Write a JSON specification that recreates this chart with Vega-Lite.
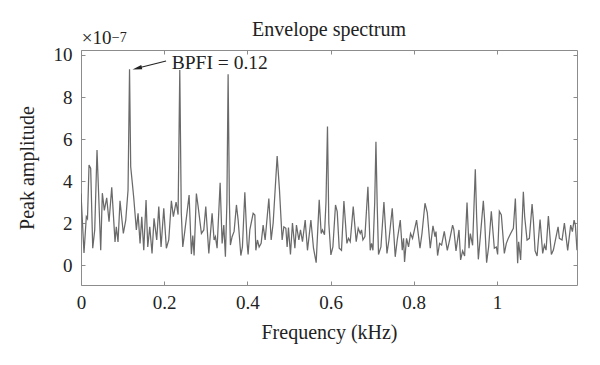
{
  "$schema": "https://vega.github.io/schema/vega-lite/v6.json",
  "width": 496,
  "height": 235,
  "autosize": "none",
  "padding": {"left": 81, "top": 50, "right": 23, "bottom": 80},
  "background": "white",
  "config": {
    "view": {"stroke": "#8c8c8c", "strokeWidth": 1},
    "axis": {"domain": false, "grid": false, "tickColor": "#8c8c8c", "tickSize": -4, "tickWidth": 1, "labelFont": "Liberation Serif", "labelFontSize": 19, "labelColor": "#222222", "titleFont": "Liberation Serif", "titleFontSize": 20, "titleFontWeight": "normal", "titleColor": "#222222"}
  },
  "datasets": {
    "spec": [
      {"f":0,"a":3.4},{"f":0.0072,"a":0.57},{"f":0.0128,"a":2.3},{"f":0.0156,"a":2.2},{"f":0.0193,"a":4.76},{"f":0.0233,"a":4.6},{"f":0.0282,"a":0.8},{"f":0.033,"a":1.67},{"f":0.0385,"a":5.48},{"f":0.0474,"a":0.7},{"f":0.0513,"a":3.42},{"f":0.0561,"a":2.6},{"f":0.0618,"a":3.2},{"f":0.0674,"a":2.06},{"f":0.0739,"a":3.7},{"f":0.0818,"a":1.1},{"f":0.0849,"a":1.82},{"f":0.089,"a":1.1},{"f":0.0938,"a":3.06},{"f":0.1018,"a":1.5},{"f":0.1076,"a":2.14},{"f":0.1131,"a":3.57},{"f":0.1167,"a":9.32},{"f":0.1195,"a":4.68},{"f":0.1234,"a":3.9},{"f":0.1268,"a":3.2},{"f":0.1331,"a":1.67},{"f":0.1372,"a":2.46},{"f":0.142,"a":1.03},{"f":0.1461,"a":2.3},{"f":0.1509,"a":0.7},{"f":0.1564,"a":3.1},{"f":0.1605,"a":0.86},{"f":0.1653,"a":1.82},{"f":0.1708,"a":0.55},{"f":0.1756,"a":2.22},{"f":0.1821,"a":1.19},{"f":0.187,"a":2.78},{"f":0.1925,"a":0.86},{"f":0.199,"a":2.7},{"f":0.2052,"a":0.8},{"f":0.211,"a":1.2},{"f":0.2173,"a":3.06},{"f":0.2221,"a":2.3},{"f":0.2286,"a":3.0},{"f":0.2334,"a":2.4},{"f":0.2375,"a":9.29},{"f":0.2411,"a":2.5},{"f":0.2447,"a":0.86},{"f":0.2495,"a":1.6},{"f":0.2599,"a":3.33},{"f":0.2654,"a":0.52},{"f":0.2688,"a":1.4},{"f":0.2719,"a":0.45},{"f":0.2774,"a":3.4},{"f":0.2815,"a":2.8},{"f":0.2895,"a":1.5},{"f":0.2952,"a":1.67},{"f":0.3,"a":2.78},{"f":0.3073,"a":0.55},{"f":0.3152,"a":2.46},{"f":0.32,"a":1.19},{"f":0.3232,"a":1.35},{"f":0.3272,"a":0.8},{"f":0.3345,"a":3.92},{"f":0.3393,"a":1.03},{"f":0.3433,"a":1.9},{"f":0.3472,"a":0.39},{"f":0.3508,"a":3.0},{"f":0.3537,"a":9.08},{"f":0.3568,"a":3.0},{"f":0.3592,"a":0.95},{"f":0.3633,"a":1.35},{"f":0.3681,"a":1.6},{"f":0.3737,"a":2.86},{"f":0.3778,"a":2.14},{"f":0.3843,"a":0.45},{"f":0.3881,"a":0.86},{"f":0.3939,"a":3.46},{"f":0.3994,"a":1.03},{"f":0.4018,"a":0.5},{"f":0.4059,"a":1.67},{"f":0.4139,"a":2.46},{"f":0.418,"a":2.38},{"f":0.4204,"a":0.7},{"f":0.4242,"a":1.19},{"f":0.4283,"a":0.86},{"f":0.4331,"a":1.03},{"f":0.4379,"a":1.9},{"f":0.4427,"a":1.19},{"f":0.4516,"a":3.17},{"f":0.4572,"a":1.19},{"f":0.462,"a":2.0},{"f":0.4716,"a":5.19},{"f":0.4771,"a":3.6},{"f":0.4836,"a":1.19},{"f":0.4877,"a":1.82},{"f":0.4925,"a":1.75},{"f":0.4956,"a":0.86},{"f":0.4988,"a":1.78},{"f":0.5036,"a":0.5},{"f":0.5084,"a":2.0},{"f":0.5142,"a":0.8},{"f":0.518,"a":1.9},{"f":0.5238,"a":1.19},{"f":0.5277,"a":1.67},{"f":0.5325,"a":1.11},{"f":0.539,"a":2.14},{"f":0.5445,"a":0.7},{"f":0.5527,"a":2.14},{"f":0.559,"a":0.8},{"f":0.5654,"a":0.11},{"f":0.5727,"a":3.1},{"f":0.5775,"a":1.5},{"f":0.5806,"a":1.67},{"f":0.5854,"a":1.44},{"f":0.589,"a":3.0},{"f":0.5926,"a":6.59},{"f":0.5958,"a":2.0},{"f":0.6008,"a":0.48},{"f":0.6056,"a":0.86},{"f":0.6119,"a":2.86},{"f":0.616,"a":2.54},{"f":0.6208,"a":0.8},{"f":0.6263,"a":0.7},{"f":0.6321,"a":3.05},{"f":0.6393,"a":1.03},{"f":0.6432,"a":1.27},{"f":0.6473,"a":1.11},{"f":0.6545,"a":2.78},{"f":0.6617,"a":1.11},{"f":0.6665,"a":1.75},{"f":0.6713,"a":1.5},{"f":0.6745,"a":1.67},{"f":0.6778,"a":1.19},{"f":0.6826,"a":1.35},{"f":0.6898,"a":3.73},{"f":0.6954,"a":0.7},{"f":0.6985,"a":1.03},{"f":0.7019,"a":0.7},{"f":0.7062,"a":3.0},{"f":0.7091,"a":5.87},{"f":0.7122,"a":2.8},{"f":0.7153,"a":0.5},{"f":0.7211,"a":0.86},{"f":0.7283,"a":3.0},{"f":0.7356,"a":0.55},{"f":0.7404,"a":1.19},{"f":0.7483,"a":2.7},{"f":0.7555,"a":0.39},{"f":0.7603,"a":1.19},{"f":0.7676,"a":2.14},{"f":0.7724,"a":0.7},{"f":0.7755,"a":1.27},{"f":0.7779,"a":0.15},{"f":0.7827,"a":1.27},{"f":0.7875,"a":0.86},{"f":0.7923,"a":1.5},{"f":0.7971,"a":1.27},{"f":0.8068,"a":2.14},{"f":0.815,"a":0.8},{"f":0.8198,"a":1.5},{"f":0.827,"a":2.94},{"f":0.8325,"a":2.5},{"f":0.8397,"a":0.8},{"f":0.8462,"a":1.86},{"f":0.8511,"a":1.35},{"f":0.8535,"a":1.59},{"f":0.8573,"a":0.45},{"f":0.8621,"a":1.03},{"f":0.867,"a":0.95},{"f":0.8734,"a":1.6},{"f":0.8807,"a":0.7},{"f":0.8862,"a":1.19},{"f":0.8934,"a":1.9},{"f":0.8963,"a":1.7},{"f":0.9016,"a":0.67},{"f":0.9088,"a":1.67},{"f":0.9127,"a":0.24},{"f":0.9175,"a":0.67},{"f":0.9223,"a":0.43},{"f":0.9281,"a":2.97},{"f":0.9329,"a":0.8},{"f":0.936,"a":1.5},{"f":0.9415,"a":0.94},{"f":0.948,"a":4.56},{"f":0.9512,"a":2.3},{"f":0.9553,"a":0.27},{"f":0.9601,"a":1.35},{"f":0.9673,"a":3.06},{"f":0.9704,"a":2.14},{"f":0.9752,"a":0.11},{"f":0.98,"a":0.86},{"f":0.9865,"a":2.56},{"f":0.9937,"a":0.8},{"f":0.9985,"a":0.86},{"f":1.0017,"a":0.5},{"f":1.0058,"a":2.56},{"f":1.0106,"a":2.38},{"f":1.0178,"a":0.55},{"f":1.0226,"a":1.03},{"f":1.0274,"a":1.27},{"f":1.033,"a":1.5},{"f":1.0395,"a":1.75},{"f":1.0443,"a":3.17},{"f":1.0498,"a":0.08},{"f":1.0522,"a":1.11},{"f":1.057,"a":0.24},{"f":1.0635,"a":3.49},{"f":1.0667,"a":2.3},{"f":1.0724,"a":1.19},{"f":1.078,"a":1.27},{"f":1.0845,"a":2.9},{"f":1.0876,"a":2.14},{"f":1.0917,"a":0.67},{"f":1.0965,"a":0.43},{"f":1.1037,"a":2.17},{"f":1.11,"a":0.55},{"f":1.1141,"a":0.95},{"f":1.1181,"a":0.71},{"f":1.1237,"a":2.33},{"f":1.1309,"a":0.5},{"f":1.1357,"a":0.71},{"f":1.147,"a":1.82},{"f":1.1501,"a":1.27},{"f":1.1566,"a":1.19},{"f":1.1622,"a":2.0},{"f":1.1701,"a":0.7},{"f":1.1773,"a":1.9},{"f":1.1814,"a":1.59},{"f":1.1855,"a":2.14},{"f":1.1886,"a":1.9},{"f":1.1925,"a":0.7}
    ],
    "arrow": [{"x1": 0.2045, "y1": 9.71, "x2": 0.135, "y2": 9.37}],
    "head": [{"x": 0.135, "y": 9.37}],
    "title": [{"x": 0.5963, "y": 10.905, "text": "Envelope spectrum"}],
    "bpfi": [{"x": 0.2182, "y": 9.32, "text": "BPFI = 0.12"}],
    "mult": [{"x": 0.0017, "y": 10.52, "text": "×10"}],
    "expo": [{"x": 0.0739, "y": 10.63, "text": "−7"}]
  },
  "resolve": {"axis": {"x": "independent", "y": "independent"}},
  "layer": [
    {
      "data": {"name": "spec"},
      "mark": {"type": "line", "color": "#6a6a6a", "strokeWidth": 1.25, "clip": true},
      "encoding": {
        "x": {"field": "f", "type": "quantitative", "scale": {"domain": [0, 1.1925], "nice": false, "zero": false},
              "axis": {"orient": "bottom", "values": [0, 0.2, 0.4, 0.6, 0.8, 1], "format": "~g", "labelFlush": false, "labelPadding": 12, "title": "Frequency (kHz)", "titleY": 53, "titleBaseline": "alphabetic"}},
        "y": {"field": "a", "type": "quantitative", "scale": {"domain": [-0.952, 10.238], "nice": false, "zero": false},
              "axis": {"orient": "left", "values": [0, 2, 4, 6, 8, 10], "format": "d", "labelPadding": 13, "title": "Peak amplitude", "titleX": -48, "titleY": 117.5, "titleAngle": -90, "titleAlign": "center", "titleBaseline": "alphabetic"}}
      }
    },
    {
      "data": {"name": "arrow"},
      "mark": {"type": "rule", "color": "#222222", "strokeWidth": 1.1},
      "encoding": {
        "x": {"field": "x1", "type": "quantitative", "axis": {"orient": "top", "values": [0, 0.2, 0.4, 0.6, 0.8, 1], "labels": false, "title": null}},
        "y": {"field": "y1", "type": "quantitative", "axis": {"orient": "right", "values": [0, 2, 4, 6, 8, 10], "labels": false, "title": null}},
        "x2": {"field": "x2"},
        "y2": {"field": "y2"}
      }
    },
    {
      "data": {"name": "head"},
      "mark": {"type": "point", "shape": "M0,-1L0.45,1L-0.45,1Z", "filled": true, "color": "#222222", "size": 90, "angle": 256, "opacity": 1},
      "encoding": {
        "x": {"field": "x", "type": "quantitative", "axis": null},
        "y": {"field": "y", "type": "quantitative", "axis": null}
      }
    },
    {
      "data": {"name": "title"},
      "mark": {"type": "text", "font": "Liberation Serif", "fontSize": 20, "align": "center", "baseline": "alphabetic", "color": "#222222"},
      "encoding": {
        "x": {"field": "x", "type": "quantitative", "axis": null},
        "y": {"field": "y", "type": "quantitative", "axis": null},
        "text": {"field": "text"}
      }
    },
    {
      "data": {"name": "bpfi"},
      "mark": {"type": "text", "font": "Liberation Serif", "fontSize": 19.5, "align": "left", "baseline": "alphabetic", "color": "#222222"},
      "encoding": {
        "x": {"field": "x", "type": "quantitative", "axis": null},
        "y": {"field": "y", "type": "quantitative", "axis": null},
        "text": {"field": "text"}
      }
    },
    {
      "data": {"name": "mult"},
      "mark": {"type": "text", "font": "Liberation Serif", "fontSize": 19, "align": "left", "baseline": "alphabetic", "color": "#222222"},
      "encoding": {
        "x": {"field": "x", "type": "quantitative", "axis": null},
        "y": {"field": "y", "type": "quantitative", "axis": null},
        "text": {"field": "text"}
      }
    },
    {
      "data": {"name": "expo"},
      "mark": {"type": "text", "font": "Liberation Serif", "fontSize": 14, "align": "left", "baseline": "alphabetic", "color": "#222222"},
      "encoding": {
        "x": {"field": "x", "type": "quantitative", "axis": null},
        "y": {"field": "y", "type": "quantitative", "axis": null},
        "text": {"field": "text"}
      }
    }
  ]
}
